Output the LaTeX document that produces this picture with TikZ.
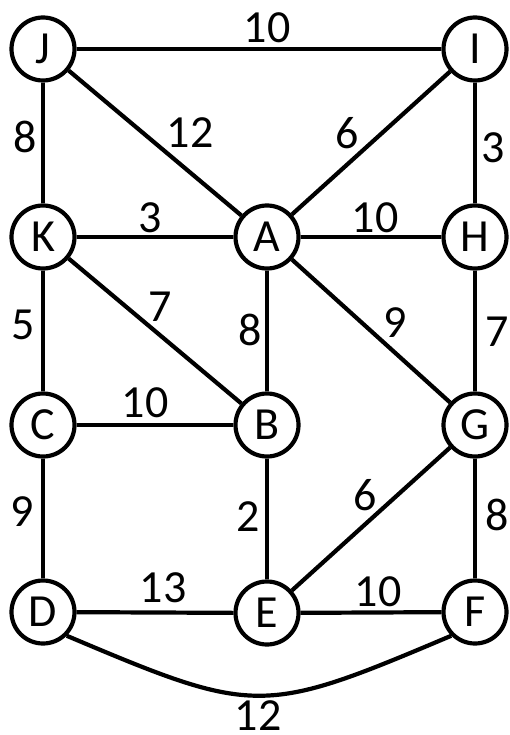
\documentclass[tikz,border=0pt]{standalone}
\usepackage{fontspec}
\setmainfont{Carlito}

\begin{document}
\begin{tikzpicture}[
  x=1pt, y=-1pt,
  font=\fontsize{46}{50}\selectfont,
  sommet/.style={circle, draw, line width=4.2pt, minimum size=63pt,
                 inner sep=0pt, fill=white},
  lien/.style={line width=4.2pt},
  poids/.style={inner sep=0pt},
]
\useasboundingbox (0,0) rectangle (509,735);
% ---- sommets, ligne par ligne
\node[sommet] (J) at (43,49) {J};
\node[sommet] (I) at (475,49) {I};
\node[sommet] (K) at (43,237) {K};
\node[sommet] (A) at (267,237) {A};
\node[sommet] (H) at (475,237) {H};
\node[sommet] (C) at (43,425) {C};
\node[sommet] (B) at (267,425) {B};
\node[sommet] (G) at (475,425) {G};
\node[sommet] (D) at (43,612) {D};
\node[sommet] (E) at (267,613) {E};
\node[sommet] (F) at (475,612) {F};
% ---- arêtes
\draw[lien] (J) -- (I);
\draw[lien] (J) -- (K);
\draw[lien] (J) -- (A);
\draw[lien] (I) -- (A);
\draw[lien] (I) -- (H);
\draw[lien] (K) -- (A);
\draw[lien] (A) -- (H);
\draw[lien] (K) -- (C);
\draw[lien] (K) -- (B);
\draw[lien] (A) -- (B);
\draw[lien] (A) -- (G);
\draw[lien] (H) -- (G);
\draw[lien] (C) -- (B);
\draw[lien] (C) -- (D);
\draw[lien] (B) -- (E);
\draw[lien] (E) -- (G);
\draw[lien] (G) -- (F);
\draw[lien] (D) -- (E);
\draw[lien] (E) -- (F);
\draw[lien] (D.-45) .. controls +(189,80) and +(-189,80) .. (F.-135);
% ---- poids des arêtes
\node[poids] (pJI) at (267,28) {10};
\node[poids] (pJK) at (25,137) {8};
\node[poids] (pJA) at (190,133) {12};
\node[poids] (pIA) at (347,133) {6};
\node[poids] (pIH) at (493,148) {3};
\node[poids] (pKA) at (150,218) {3};
\node[poids] (pAH) at (375,218) {10};
\node[poids] (pKC) at (23,325) {5};
\node[poids] (pKB) at (160,307) {7};
\node[poids] (pAB) at (250,330) {8};
\node[poids] (pAG) at (395,323) {9};
\node[poids] (pHG) at (497,332) {7};
\node[poids] (pCB) at (145,403) {10};
\node[poids] (pCD) at (22,512) {9};
\node[poids] (pBE) at (248,517) {2};
\node[poids] (pEG) at (365,495) {6};
\node[poids] (pGF) at (497,515) {8};
\node[poids] (pDE) at (163,588) {13};
\node[poids] (pEF) at (378,592) {10};
\node[poids] (pDF) at (258,716) {12};
\end{tikzpicture}
\end{document}
